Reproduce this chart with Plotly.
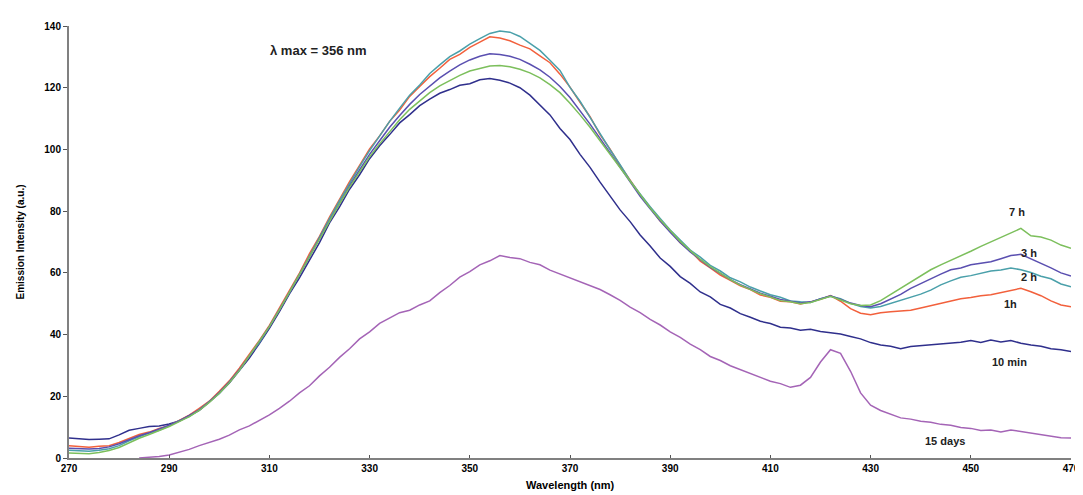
import plotly.graph_objects as go

wavelength = list(range(270, 472, 2))

min10 = [6.5, 6.3, 6.0, 6.1, 6.2, 7.5, 9.0, 9.6, 10.2, 10.4, 11.0, 12.0, 13.6, 15.4, 18.2, 21.0, 24.3, 28.2, 32.4, 37.1,
         42.0, 47.4, 53.2, 58.4, 64.1, 69.8, 76.2, 81.4, 87.1, 91.8, 97.0, 101.2, 104.8, 108.6, 111.3, 114.2, 116.3, 118.2, 119.4, 120.8,
         121.3, 122.6, 123.0, 122.4, 121.5, 120.0, 117.6, 114.4, 111.2, 106.8, 103.2, 98.4, 94.2, 89.4, 85.1, 80.4, 76.6, 72.3, 68.7, 64.8,
         62.1, 58.8, 56.6, 53.8, 52.2, 49.8, 48.6, 46.8, 45.6, 44.3, 43.6, 42.4, 42.1, 41.4, 41.7, 41.0, 40.6, 40.2, 39.4, 38.6,
         37.4, 36.6, 36.2, 35.4, 36.1, 36.4, 36.7, 36.9, 37.3, 37.5, 38.1, 37.4, 38.2, 37.6, 38.1, 37.2, 36.6, 36.2, 35.4, 35.1,
         34.5]
h1 = [4.0, 3.8, 3.5, 3.8, 4.0, 5.0, 6.4, 7.6, 8.4, 9.6, 10.5, 12.1, 13.9, 16.1, 18.4, 21.6, 25.0, 29.1, 33.4, 38.1,
      43.0, 48.6, 54.1, 59.9, 66.2, 71.8, 78.1, 83.9, 89.6, 94.8, 100.2, 104.4, 109.1, 112.8, 117.2, 120.4, 123.6, 126.3, 129.2, 130.8,
      133.1, 134.8, 136.5, 136.1, 135.2, 133.8, 132.6, 130.3, 128.1, 124.4, 120.2, 115.3, 110.6, 104.8, 100.1, 94.8, 90.2, 85.3, 81.2, 76.8,
      73.6, 69.8, 67.2, 63.8, 61.6, 59.3, 57.6, 55.8, 54.6, 52.8, 52.1, 50.8, 50.6, 49.9, 50.6, 51.4, 52.6, 50.8, 48.4, 46.9,
      46.4, 47.1, 47.4, 47.6, 47.9, 48.6, 49.4, 50.1, 50.8, 51.6, 52.0, 52.6, 52.9, 53.6, 54.3, 55.0, 53.9, 52.6, 50.9, 49.6,
      49.0]
h2 = [2.5, 2.3, 2.2, 2.5, 3.0, 4.0, 5.6, 6.9, 8.1, 9.0, 10.4, 12.1, 13.4, 15.6, 18.1, 20.9, 24.6, 28.4, 33.1, 37.4,
      42.6, 47.9, 53.6, 59.4, 65.6, 71.4, 77.6, 83.4, 89.1, 94.4, 99.6, 104.4, 109.1, 113.4, 117.6, 120.9, 124.6, 127.4, 130.1, 131.9,
      134.1, 135.9, 137.6, 138.4, 138.0, 136.6, 134.4, 132.1, 128.9, 125.6, 120.1, 115.6, 110.4, 105.1, 99.9, 95.1, 89.9, 85.6, 81.4, 77.6,
      73.9, 70.6, 67.4, 65.1, 62.4, 60.6, 58.4, 57.1, 55.4, 54.1, 52.9, 52.1, 50.9, 50.6, 50.4, 51.6, 52.4, 51.6, 50.1, 49.1,
      48.6, 49.1, 50.1, 50.9, 52.1, 53.1, 54.4, 56.1, 57.4, 58.6, 59.1, 59.9, 60.6, 60.9, 61.6, 61.0, 60.1, 58.9, 58.1, 56.4,
      55.5]
h3 = [3.2, 3.0, 2.9, 3.1, 3.6, 4.6, 6.0, 7.2, 8.2, 9.3, 10.6, 12.0, 13.7, 15.6, 18.2, 21.2, 24.6, 28.6, 33.0, 37.6,
      42.6, 48.0, 53.6, 59.4, 65.2, 71.2, 77.0, 82.8, 88.2, 93.4, 98.4, 102.8, 107.2, 111.0, 114.6, 117.8, 120.6, 123.2, 125.4, 127.4,
      129.0, 130.2, 131.0, 130.8, 130.2, 129.2, 127.6, 125.8, 123.4, 120.4, 116.8, 112.6, 108.2, 103.6, 98.8, 94.0, 89.4, 84.8, 80.8, 76.8,
      73.2, 69.8, 66.8, 64.2, 61.8, 59.8, 57.8, 56.2, 54.8, 53.4, 52.4, 51.4, 50.8, 50.2, 50.6, 51.6, 52.6, 51.4, 50.2, 49.4,
      49.0, 50.0, 51.6, 53.0, 55.0, 56.6, 58.0, 59.6, 61.0, 61.6, 62.6, 63.0, 63.6, 64.6, 65.6, 66.0, 64.6, 63.0, 61.6, 60.0,
      59.0]
h7 = [1.6, 1.5, 1.4, 1.8, 2.4, 3.4, 5.0, 6.4, 7.6, 8.8, 10.2, 11.8, 13.4, 15.4, 18.0, 21.0, 24.4, 28.4, 33.0, 37.6,
      42.6, 48.0, 53.8, 59.6, 65.4, 71.2, 76.8, 82.4, 87.8, 92.8, 97.6, 101.8, 105.8, 109.6, 113.0, 115.8, 118.4, 120.6, 122.4, 124.0,
      125.4, 126.2, 127.0, 127.2, 126.8, 126.0, 124.8, 123.2, 121.0, 118.4, 115.0, 111.2, 107.2, 102.8, 98.4, 93.8, 89.4, 85.0, 81.0, 77.2,
      73.6, 70.2, 67.2, 64.4, 62.0, 59.8, 57.8, 56.0, 54.6, 53.2, 52.2, 51.0, 50.6, 50.0, 50.4, 51.4, 52.4, 51.2, 50.0, 49.4,
      49.6, 51.0, 53.0, 55.0, 57.0, 59.0, 61.0, 62.6, 64.0, 65.6, 67.0, 68.6, 70.0, 71.6, 73.0, 74.4, 72.0, 71.6, 70.6, 69.0,
      68.0]
days15 = [None, None, None, None, None, None, None, 0.0, 0.2, 0.5, 1.0, 1.8, 2.8, 4.0, 5.0, 6.1, 7.4, 9.1, 10.4, 12.1,
          14.0, 16.1, 18.4, 21.1, 23.4, 26.6, 29.4, 32.6, 35.4, 38.6, 40.9, 43.6, 45.4, 47.1, 47.9, 49.6, 50.9, 53.6, 55.9, 58.6,
          60.4, 62.6, 63.9, 65.6, 65.0, 64.6, 63.4, 62.6, 60.9, 59.6, 58.4, 57.1, 55.9, 54.6, 52.9, 51.1, 48.9, 47.1, 44.9, 43.1,
          40.9, 39.1, 36.9, 35.1, 32.9, 31.6, 29.9, 28.6, 27.4, 26.1, 24.9, 24.1, 22.9, 23.6, 26.1, 31.1, 35.1, 33.9, 28.1, 21.1,
          17.1, 15.4, 14.1, 13.0, 12.6, 11.9, 11.6, 10.9, 10.6, 9.9, 9.6, 8.9, 9.1, 8.4, 9.1, 8.6, 7.9, 7.6, 6.9, 6.6,
          6.5]

series = [
    ("10 min", min10, "#2f2f8c"),
    ("1h", h1, "#f2603c"),
    ("2 h", h2, "#4aa0aa"),
    ("3 h", h3, "#5a4fb0"),
    ("7 h", h7, "#7cbf5c"),
    ("15 days", days15, "#a464b6"),
]

label_text = ["7 h", "3 h", "2 h", "1h", "10 min", "15 days"]
label_x = [459.3, 461.7, 461.7, 458.0, 457.7, 444.9]
label_y = [79.7, 66.4, 58.6, 49.9, 31.1, 5.5]

xticks = list(range(270, 471, 20))
yticks = list(range(0, 141, 20))

fig = go.Figure()
for name, vals, col in series:
    fig.add_trace(go.Scatter(x=wavelength, y=vals, mode="lines", name=name,
                             line=dict(color=col, width=1.5), connectgaps=False))

for t, x, y in zip(label_text, label_x, label_y):
    fig.add_annotation(x=x, y=y, text="<b>" + t + "</b>", showarrow=False,
                       font=dict(family="Liberation Sans, Arial", size=11, color="#222222"))

fig.add_annotation(x=319.7, y=131.9, text="<b>λ max = 356 nm</b>", showarrow=False,
                   font=dict(family="Liberation Sans, Arial", size=13, color="#222222"))

fig.add_annotation(xref="paper", yref="paper", x=0.5, y=-0.045, yanchor="top",
                   text="<b>Wavelength (nm)</b>", showarrow=False,
                   font=dict(family="Liberation Sans, Arial", size=11, color="#000000"))

fig.update_layout(
    width=1083, height=495,
    margin=dict(l=61, r=11, t=18, b=45),
    paper_bgcolor="white", plot_bgcolor="white",
    showlegend=False,
    font=dict(family="Liberation Sans, Arial", color="#000000"),
)
fig.update_xaxes(range=[270, 470], tickvals=xticks, ticktext=["<b>%d</b>" % v for v in xticks],
                 showgrid=False, zeroline=False, showline=True, linecolor="#808080", linewidth=2,
                 ticks="inside", ticklen=3, tickcolor="#555555", tickfont=dict(size=10, color="#000"))
fig.update_yaxes(range=[0, 140], tickvals=yticks, ticktext=["<b>%d</b>" % v for v in yticks],
                 showgrid=False, zeroline=False, showline=True, linecolor="#808080", linewidth=2,
                 ticks="outside", ticklen=4, tickcolor="#555555", tickfont=dict(size=10, color="#000"),
                 title=dict(text="<b>Emission Intensity (a.u.)</b>", font=dict(size=10), standoff=18))

fig.write_html("out.html")
